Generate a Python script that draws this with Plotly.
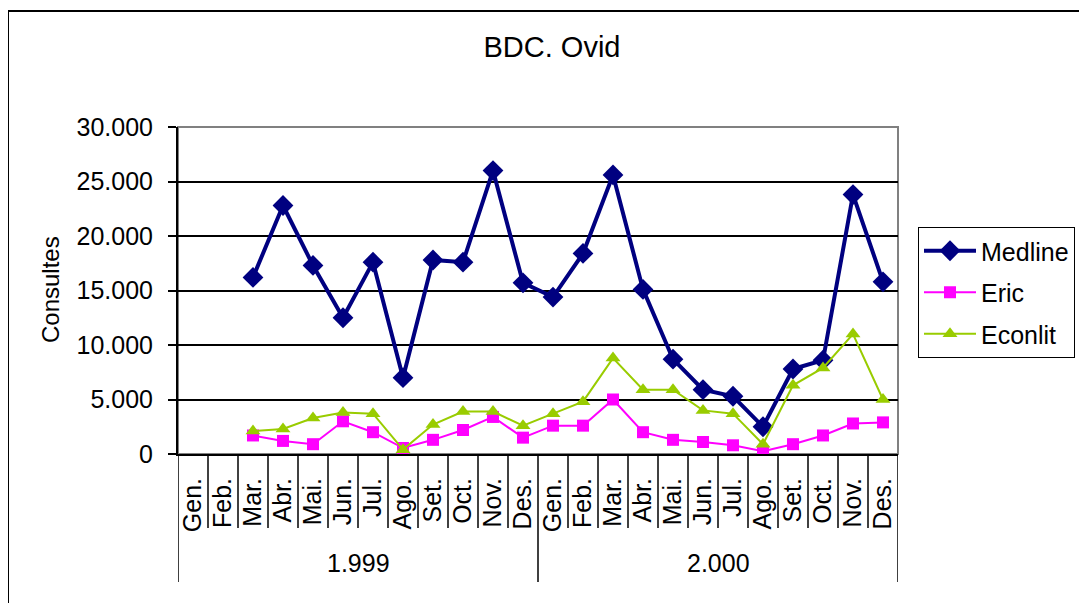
import plotly.graph_objects as go

months = ["Gen.", "Feb.", "Mar.", "Abr.", "Mai.", "Jun.", "Jul.", "Ago.", "Set.", "Oct.", "Nov.", "Des."]
years = ["1.999", "2.000"]

medline = [None, None, 16200, 22800, 17300, 12500, 17600, 7000, 17800, 17600, 26000, 15700,
           14400, 18400, 25600, 15100, 8700, 5900, 5300, 2500, 7800, 8600, 23800, 15800]
eric = [None, None, 1700, 1200, 900, 3000, 2000, 550, 1300, 2200, 3400, 1500,
        2600, 2600, 5000, 2000, 1300, 1100, 800, 250, 900, 1700, 2800, 2900]
econlit = [None, None, 2100, 2300, 3300, 3800, 3700, 400, 2700, 3900, 3900, 2600,
           3700, 4800, 8800, 5900, 5900, 4000, 3700, 900, 6300, 7900, 11000, 5000]

labels = [m for _ in years for m in months]
xs = list(range(len(labels)))
n = len(labels)
nm = len(months)

FONT = "Arial, Liberation Sans, sans-serif"

fig = go.Figure()
fig.add_trace(go.Scatter(x=xs, y=medline, name="Medline", mode="lines+markers",
                         line=dict(color="#000080", width=4),
                         marker=dict(symbol="diamond", size=16, color="#000080"),
                         legendgroup="a"))
fig.add_trace(go.Scatter(x=xs, y=eric, name="Eric", mode="lines+markers",
                         line=dict(color="#FF00FF", width=2),
                         marker=dict(symbol="square", size=12, color="#FF00FF"),
                         legendgroup="b"))
fig.add_trace(go.Scatter(x=xs, y=econlit, name="Econlit", mode="lines+markers",
                         line=dict(color="#99CC00", width=2),
                         marker=dict(symbol="triangle-up", size=13, color="#99CC00"),
                         legendgroup="c"))

# page offset (browser body margin)
OFF = 8
W, H = 1087 - OFF, 603 - OFF
# plot area in reference-screen pixels
L, R, T, B = 178, 898, 127, 454
pw, ph = R - L, B - T

def px_to_paper_x(px):
    return (px - L) / pw

def px_to_paper_y(py):
    return (B - py) / ph

shapes = []
shapes.append(dict(type="rect", xref="paper", yref="paper", x0=0, x1=1, y0=0, y1=1,
                   line=dict(color="#808080", width=2), layer="below"))
for i in range(n + 1):
    xb = i - 0.5
    y_end = px_to_paper_y(582) if i % nm == 0 else px_to_paper_y(528)
    shapes.append(dict(type="line", xref="x", yref="paper", x0=xb, x1=xb, y0=0, y1=y_end,
                       line=dict(color="black", width=1.5)))
shapes.append(dict(type="rect", xref="paper", yref="paper",
                   x0=px_to_paper_x(8), x1=px_to_paper_x(1200),
                   y0=px_to_paper_y(700), y1=px_to_paper_y(11),
                   line=dict(color="black", width=2)))

annotations = []
for k, yr in enumerate(years):
    annotations.append(dict(x=k * nm + (nm - 1) / 2, y=px_to_paper_y(563), xref="x", yref="paper",
                            text=yr, showarrow=False, font=dict(size=25, color="black", family=FONT),
                            xanchor="center", yanchor="middle"))
annotations.append(dict(x=px_to_paper_x(50), y=px_to_paper_y(290), xref="paper", yref="paper",
                        text="Consultes", textangle=-90, showarrow=False,
                        font=dict(size=24, color="black", family=FONT),
                        xanchor="center", yanchor="middle"))

fig.update_layout(
    width=W, height=H,
    margin=dict(l=L - OFF, r=1087 - R, t=T - OFF, b=603 - B, pad=0),
    paper_bgcolor="white", plot_bgcolor="white",
    separators=",.",
    font=dict(family=FONT, color="black", size=25),
    title=dict(text="BDC. Ovid", x=px_to_paper_x(552), xref="paper", xanchor="center",
               y=1 - (47 - OFF) / H, yref="container", yanchor="middle",
               font=dict(size=29, color="black", family=FONT)),
    xaxis=dict(range=[-0.5, n - 0.5], tickvals=xs, ticktext=labels, tickangle=-90,
               ticks="", showgrid=False, zeroline=False, showline=True,
               linecolor="black", linewidth=2, ticklabelstandoff=12,
               tickfont=dict(size=25, family=FONT, color="black")),
    yaxis=dict(range=[0, 30000], dtick=5000, tickformat=",d", showgrid=True,
               gridcolor="black", gridwidth=1.5, zeroline=False, showline=True,
               linecolor="black", linewidth=2, ticks="outside", ticklen=8,
               tickcolor="black", tickwidth=1.5, ticklabelstandoff=10,
               tickfont=dict(size=25, family=FONT, color="black")),
    legend=dict(x=px_to_paper_x(918), y=px_to_paper_y(227), xanchor="left", yanchor="top",
                bordercolor="black", borderwidth=1, bgcolor="white",
                font=dict(size=25, family=FONT, color="black"), tracegroupgap=6,
                itemwidth=52),
    shapes=shapes,
    annotations=annotations,
    showlegend=True,
)

fig.write_html("out.html")
